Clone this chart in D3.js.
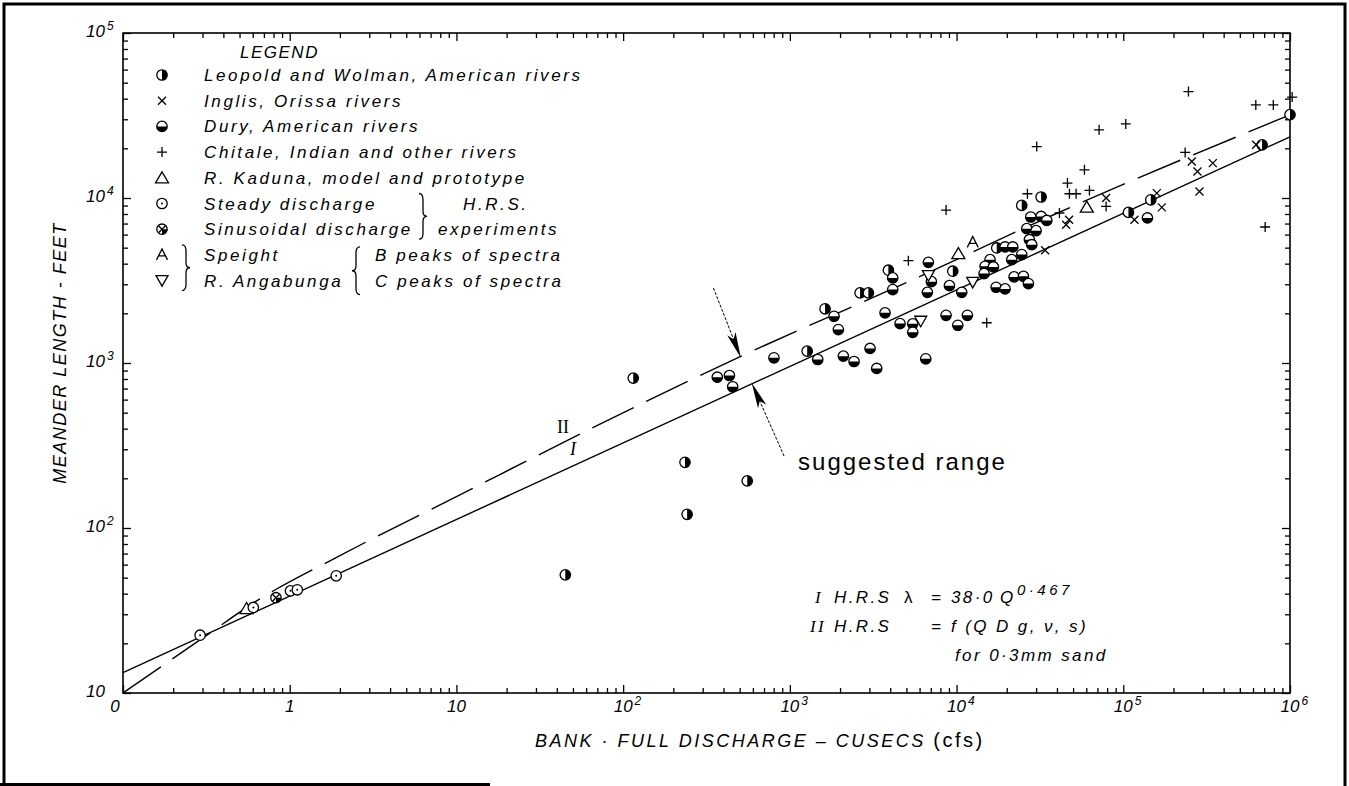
<!DOCTYPE html>
<html><head><meta charset="utf-8">
<script src="https://cdn.jsdelivr.net/npm/d3@7"></script>
<style>
body{margin:0;background:#fff;}
svg{display:block;}
text{font-family:"Liberation Sans",Arial,sans-serif;fill:#000;}
.it{font-style:italic;}
</style></head><body>
<svg id="c" width="1349" height="786"></svg>
<script>
// ---------- data (Q in cusecs, lambda in feet) ----------
const xDomain = [0.1, 1e6];
const yDomain = [10, 1e5];
const xTickValues = [0.1, 1, 10, 100, 1e3, 1e4, 1e5, 1e6];
const xTickBase = ["0", "1", "10", "10", "10", "10", "10", "10"];
const xTickExp  = ["", "", "", "2", "3", "4", "5", "6"];
const yTickValues = [10, 100, 1e3, 1e4, 1e5];
const yTickBase = ["10", "10", "10", "10", "10"];
const yTickExp  = ["", "2", "3", "4", "5"];

const leopold = [[45,52],[115,810],[235,250],[242,121],[555,193],[1.0e6,32000],
  [1270,1180],[1626,2130],[2638,2660],[2958,2660],[3900,3650],[9490,3600],[17420,4980],
  [32140,10140],[24600,9020],[107400,8180],[146200,9750],[680000,21000]];
const dury = [[367,820],[434,840],[454,718],[803,1075],[1470,1050],[1841,1920],[1954,1595],
  [2094,1100],[2427,1021],[3027,1225],[3319,927],[3724,2013],[4140,3280],[4140,2786],
  [4581,1734],[5458,1727],[5458,1535],[6535,1060],[6776,4074],[7063,3113],[6683,2680],
  [8650,1945],[10170,1693],[11610,1945],[9060,2944],[10740,2680],[15880,4229],[14820,3855],
  [16630,3821],[14620,3483],[17260,2877],[19540,5050],[21730,5050],[27860,7670],[32140,7730],
  [34760,7310],[26360,6520],[29990,6340],[27350,5590],[28250,5210],[24600,4540],[21430,4230],
  [22130,3325],[25180,3350],[26980,3030],[19540,2813],[139600,7570]];
const inglis = [[33960,4820],[47300,7390],[45400,6890],[78890,10000],[116700,7390],[158900,10710],
  [170200,8770],[257700,16640],[344300,16270],[278600,14490],[286400,10960],[626500,21000]];
const chitale = [[5140,4170],[8650,8450],[15170,1754],[30270,20510],[71610,25880],[103500,28130],
  [246000,44150],[623700,36640],[794300,36640],[1030000,40900],[235000,18880],[709600,6670],
  [58480,14820],[46240,12310],[47530,10610],[52120,10610],[62660,11110],[78890,8890],
  [41400,8110],[26610,10610]];
const kaduna = [[0.551,32.5],[10250,4600],[60400,8810]];
const speight = [[12500,5383]];
const angabunga = [[6095,1791],[6776,3388],[12500,3083]];
const steady = [[0.29,22.4],[0.605,33.0],[1.01,41.6],[1.11,42.2],[1.90,51.3]];
const sinusoidal = [[0.827,37.8]];

// line I (HRS regression) and curve II
const lineI  = [[0.1,13.3],[1e6,23500]];
const lineII = [[0.1,10],[0.3,21.5],[0.63,36],[2,68],[10,155],[64,400],[500,1090],
  [5000,3070],[40700,8140],[1e6,31900]];

const legendLabels = ["Leopold and Wolman, American rivers","Inglis, Orissa rivers",
  "Dury, American rivers","Chitale, Indian and other rivers","R. Kaduna, model and prototype",
  "Steady discharge","Sinusoidal discharge","Speight","R. Angabunga"];
const legendSymbols = ["leopold","inglis","dury","chitale","kaduna","steady","sinusoidal","speight","angabunga"];

// annotation arrows (data coordinates)
const arrowUpper = [[348,2850],[508,1075]];
const arrowLower = [[923,273],[590,759]];
const labelII = [43.6,407];
const labelI = [50,300];

// ---------- drawing ----------
const svg = d3.select("#c");
const L = 123, R = 1290, T = 33, B = 693;
const x = d3.scaleLog().domain(xDomain).range([L, R]);
const y = d3.scaleLog().domain(yDomain).range([B, T]);

// outer border
svg.append("path").attr("d","M4,786V4H1345V786").attr("fill","none").attr("stroke","#000").attr("stroke-width",3);
svg.append("path").attr("d","M0,784.5H490").attr("stroke","#000").attr("stroke-width",3);

const isMajor = v => Math.abs(Math.log10(v) - Math.round(Math.log10(v))) < 1e-9;
const xt = x.ticks(), yt = y.ticks();
function ax(gen, tr, vals, size){
  const g = svg.append("g").attr("transform", tr)
    .call(gen.tickValues(vals).tickSize(size).tickFormat(""));
  g.select(".domain").remove();
  g.selectAll("line").attr("stroke","#000").attr("stroke-width",1.3);
}
ax(d3.axisBottom(x), `translate(0,${B})`, xt.filter(v=>!isMajor(v)), -5);
ax(d3.axisBottom(x), `translate(0,${B})`, xt.filter(isMajor), -8);
ax(d3.axisTop(x), `translate(0,${T})`, xt.filter(v=>!isMajor(v)), -5);
ax(d3.axisTop(x), `translate(0,${T})`, xt.filter(isMajor), -8);
ax(d3.axisLeft(y), `translate(${L},0)`, yt.filter(v=>!isMajor(v)), -5);
ax(d3.axisLeft(y), `translate(${L},0)`, yt.filter(isMajor), -8);
ax(d3.axisRight(y), `translate(${R},0)`, yt.filter(v=>!isMajor(v)), -5);
ax(d3.axisRight(y), `translate(${R},0)`, yt.filter(isMajor), -8);
svg.append("rect").attr("x",L).attr("y",T).attr("width",R-L).attr("height",B-T)
  .attr("fill","none").attr("stroke","#000").attr("stroke-width",1.6);

// tick labels
const tl = svg.append("g").attr("class","it").style("font-size","17px");
xTickValues.forEach((v,i)=>{
  const cx = x(v) + (xTickBase[i]==="0" ? -8 : 0);
  const t = tl.append("text").attr("x",cx).attr("y",B+19).attr("text-anchor","middle").text(xTickBase[i]);
  if (xTickExp[i]) {
    const w = t.node().getComputedTextLength();
    tl.append("text").attr("x",cx + w/2 + 2).attr("y",B+12).style("font-size","12px").text(xTickExp[i]);
  }
});
yTickValues.forEach((v,i)=>{
  tl.append("text").attr("x",105).attr("y",y(v)+4).attr("text-anchor","end").text(yTickBase[i]);
  if (yTickExp[i]) tl.append("text").attr("x",107).attr("y",y(v)-3).style("font-size","12px").text(yTickExp[i]);
});

// axis titles
svg.append("text").attr("class","it").attr("transform","translate(66,353) rotate(-90)")
  .attr("text-anchor","middle").style("font-size","18px").style("letter-spacing","1.5px")
  .text("MEANDER LENGTH - FEET");
const xt1 = svg.append("text").attr("x",535).attr("y",747).style("font-size","18px").style("letter-spacing","2.5px");
xt1.append("tspan").attr("class","it").text("BANK · FULL DISCHARGE – CUSECS ");
xt1.append("tspan").style("font-size","20px").text("(cfs)");

// lines
const line = d3.line().x(d=>x(d[0])).y(d=>y(d[1]));
svg.append("path").attr("d", line(lineI)).attr("fill","none").attr("stroke","#000").attr("stroke-width",1.4);
svg.append("path").attr("d", line.curve(d3.curveMonotoneX)(lineII)).attr("fill","none")
  .attr("stroke","#000").attr("stroke-width",1.4).attr("stroke-dasharray","46,14");

svg.append("text").attr("x",x(labelII[0])).attr("y",y(labelII[1])+6).attr("text-anchor","middle")
  .style("font-family","'Liberation Serif',serif").style("font-size","18px").text("II");
svg.append("text").attr("x",x(labelI[0])).attr("y",y(labelI[1])+6).attr("text-anchor","middle")
  .style("font-family","'Liberation Serif',serif").style("font-size","18px").attr("class","it").text("I");

// symbols
const sw = 1.3;
function drawSymbol(g, type, cx, cy){
  const r = 5.2;
  const circ = () => g.append("circle").attr("cx",cx).attr("cy",cy).attr("r",r)
      .attr("fill","#fff").attr("stroke","#000").attr("stroke-width",sw);
  const p = d => g.append("path").attr("d",d).attr("fill","none").attr("stroke","#000").attr("stroke-width",sw);
  switch(type){
    case "leopold": circ();
      g.append("path").attr("d",`M${cx},${cy-r}A${r},${r} 0 0 1 ${cx},${cy+r}Z`).attr("fill","#000"); break;
    case "dury": circ();
      g.append("path").attr("d",`M${cx-r},${cy}A${r},${r} 0 0 0 ${cx+r},${cy}Z`).attr("fill","#000"); break;
    case "inglis": p(`M${cx-4},${cy-4}L${cx+4},${cy+4}M${cx-4},${cy+4}L${cx+4},${cy-4}`); break;
    case "chitale": p(`M${cx-5},${cy}H${cx+5}M${cx},${cy-5}V${cy+5}`); break;
    case "kaduna": g.append("path").attr("d",`M${cx},${cy-6}L${cx+6.5},${cy+5}H${cx-6.5}Z`)
        .attr("fill","#fff").attr("stroke","#000").attr("stroke-width",sw); break;
    case "steady": circ();
      g.append("circle").attr("cx",cx).attr("cy",cy).attr("r",1).attr("fill","#000"); break;
    case "sinusoidal": circ();
      g.append("path").attr("d",`M${cx},${cy}L${cx+r},${cy}A${r},${r} 0 0 1 ${cx},${cy+r}Z`).attr("fill","#000");
      p(`M${cx-3.5},${cy-3.5}L${cx+3.5},${cy+3.5}M${cx-3.5},${cy+3.5}L${cx+3.5},${cy-3.5}`); break;
    case "speight": p(`M${cx-5.5},${cy+5}L${cx},${cy-6}L${cx+5.5},${cy+5}M${cx-3},${cy+1}H${cx+3}`); break;
    case "angabunga": g.append("path").attr("d",`M${cx},${cy+5.5}L${cx+6},${cy-5}H${cx-6}Z`)
        .attr("fill","#fff").attr("stroke","#000").attr("stroke-width",sw); break;
  }
}
const pts = svg.append("g");
const series = [["leopold",leopold],["dury",dury],["kaduna",kaduna],["speight",speight],
  ["angabunga",angabunga],["steady",steady],["sinusoidal",sinusoidal],["inglis",inglis],["chitale",chitale]];
series.forEach(([type,data])=>data.forEach(d=>drawSymbol(pts,type,x(d[0]),y(d[1]))));

// arrows
function arrow(a){
  const x0=x(a[0][0]), y0=y(a[0][1]), x1=x(a[1][0]), y1=y(a[1][1]);
  const dx=x1-x0, dy=y1-y0, len=Math.hypot(dx,dy), ux=dx/len, uy=dy/len;
  svg.append("line").attr("x1",x0).attr("y1",y0).attr("x2",x1-ux*10).attr("y2",y1-uy*10)
    .attr("stroke","#000").attr("stroke-width",1).attr("stroke-dasharray","3,1.5");
  const hl=26, hw=4.5, bx=x1-ux*hl, by=y1-uy*hl;
  svg.append("path").attr("d",`M${x1},${y1}L${bx-uy*hw},${by+ux*hw}L${bx+ux*6},${by+uy*6}L${bx+uy*hw},${by-ux*hw}Z`).attr("fill","#000");
}
arrow(arrowUpper); arrow(arrowLower);
svg.append("text").attr("x",x(arrowLower[0][0])+14).attr("y",y(arrowLower[0][1])+14)
  .style("font-size","24px").style("letter-spacing","2px").text("suggested range");

// formula
const f = svg.append("g").attr("class","it").style("font-size","17px").style("letter-spacing","2.4px");
f.append("text").attr("x",815).attr("y",603).style("font-family","'Liberation Serif',serif").text("I");
f.append("text").attr("x",834).attr("y",603).text("H.R.S");
f.append("text").attr("x",904).attr("y",603).style("font-style","normal").text("λ");
f.append("text").attr("x",931).attr("y",603).text("=");
f.append("text").attr("x",951).attr("y",603).text("38·0");
f.append("text").attr("x",1000).attr("y",603).text("Q");
f.append("text").attr("x",1017).attr("y",595).style("font-size","15px").style("letter-spacing","3.5px").text("0·467");
f.append("text").attr("x",810).attr("y",632).style("font-family","'Liberation Serif',serif").text("II");
f.append("text").attr("x",834).attr("y",632).text("H.R.S");
f.append("text").attr("x",931).attr("y",632).text("=");
f.append("text").attr("x",951).attr("y",632).text("f (Q D g, ν, s)");
f.append("text").attr("x",955).attr("y",661).text("for 0·3mm sand");

// legend
const rowY = i => 75 + 25.7*i;
const lg = svg.append("g").attr("class","it").style("font-size","17px").style("letter-spacing","2.6px");
lg.append("text").attr("x",240).attr("y",58).style("letter-spacing","1.5px").text("LEGEND");
legendLabels.forEach((s,i)=>{
  drawSymbol(svg, legendSymbols[i], 162, rowY(i));
  lg.append("text").attr("x",204).attr("y",rowY(i)+6).text(s);
});
lg.append("text").attr("x",463).attr("y",rowY(5)+6).text("H.R.S.");
lg.append("text").attr("x",438).attr("y",rowY(6)+6).text("experiments");
lg.append("text").attr("x",375).attr("y",rowY(7)+6).text("B peaks of spectra");
lg.append("text").attr("x",375).attr("y",rowY(8)+6).text("C peaks of spectra");
function brace(xc, y0, y1, dir){ // dir=1 points right, -1 points left
  const m=(y0+y1)/2, w=4*dir;
  svg.append("path").attr("d",
    `M${xc-w},${y0}Q${xc},${y0} ${xc},${y0+6}V${m-5}Q${xc},${m} ${xc+w},${m}Q${xc},${m} ${xc},${m+5}V${y1-6}Q${xc},${y1} ${xc-w},${y1}`)
    .attr("fill","none").attr("stroke","#000").attr("stroke-width",1.3);
}
brace(423, rowY(5)-10, rowY(6)+10, 1);
brace(186, rowY(7)-10, rowY(8)+10, 1);
brace(356, rowY(7)-8, rowY(8)+14, -1);
</script></body></html>
